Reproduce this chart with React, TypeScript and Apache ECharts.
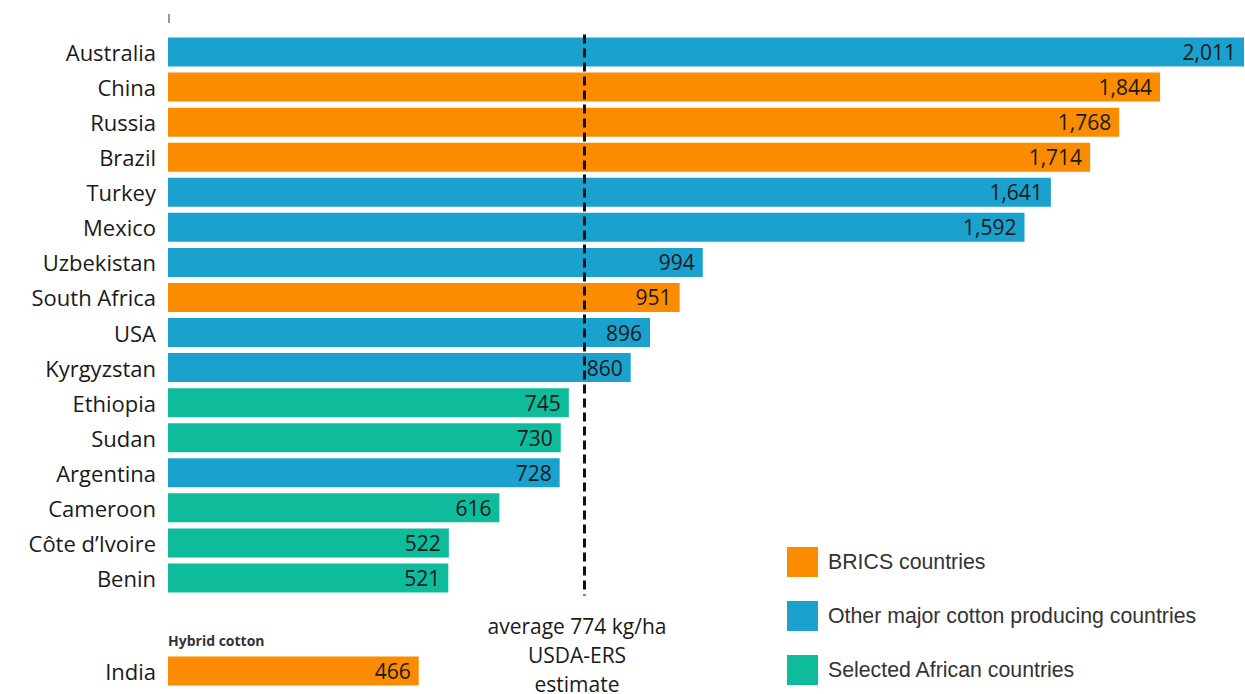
import React, { useEffect, useRef } from "react";
import * as echarts from "echarts";

const categories = [
  "Australia", "China", "Russia", "Brazil", "Turkey", "Mexico", "Uzbekistan", "South Africa",
  "USA", "Kyrgyzstan", "Ethiopia", "Sudan", "Argentina", "Cameroon", "Côte d’Ivoire", "Benin",
];
const yields = [2011, 1844, 1768, 1714, 1641, 1592, 994, 951, 896, 860, 745, 730, 728, 616, 522, 521];
const groups = [
  "other", "brics", "brics", "brics", "other", "other", "other", "brics",
  "other", "other", "african", "african", "other", "african", "african", "african",
];
const hybridCategories = ["India"];
const hybridValues = [466];
const averageYield = 774;

const groupNames: Record<string, string> = {
  brics: "BRICS countries",
  other: "Other major cotton producing countries",
  african: "Selected African countries",
};
const groupColors: Record<string, string> = {
  brics: "#FB8C00",
  other: "#1BA1CD",
  african: "#0EBC9B",
};

const FONT = "'Open Sans', 'Noto Sans', sans-serif";

export default function App() {
  const ref = useRef<HTMLDivElement>(null);
  useEffect(() => {
    if (!ref.current) return;
    const chart = echarts.init(ref.current, undefined, { renderer: "svg" });
    const fmt = (p: any) => Number(p.value).toLocaleString("en-US");
    const labelCfg = {
      show: true,
      position: "insideRight",
      distance: 8,
      formatter: fmt,
      color: "#1a1a1a",
      fontSize: 21,
      fontFamily: FONT,
    };
    const keys = ["brics", "other", "african"];
    const mainSeries: any[] = keys.map((k, i) => ({
      type: "bar",
      name: groupNames[k],
      xAxisIndex: 0,
      yAxisIndex: 0,
      stack: "main",
      barWidth: 29,
      itemStyle: { color: groupColors[k] },
      label: labelCfg,
      data: yields.map((v, j) => (groups[j] === k ? v : "-")),
      markLine:
        i === 0
          ? {
              silent: true,
              symbol: "none",
              label: { show: false },
              lineStyle: { color: "#111", type: [9, 5], width: 3 },
              data: [{ xAxis: averageYield }],
            }
          : undefined,
    }));
    mainSeries.push({
      type: "bar",
      name: groupNames.brics,
      xAxisIndex: 1,
      yAxisIndex: 1,
      barWidth: 29,
      itemStyle: { color: groupColors.brics },
      label: labelCfg,
      data: hybridValues,
    });

    const yAxisCommon = {
      type: "category",
      inverse: true,
      axisLine: { show: false },
      axisTick: { show: false },
      axisLabel: { color: "#1a1a1a", fontSize: 22, fontFamily: FONT, margin: 12 },
    };
    const xAxisCommon = {
      type: "value",
      min: 0,
      max: 2000,
      show: false,
      splitLine: { show: false },
    };

    chart.setOption({
      animation: false,
      grid: [
        { left: 168, right: 1, top: 34.5, height: 561 },
        { left: 168, right: 1, top: 653, height: 36 },
      ],
      xAxis: [
        { ...xAxisCommon, gridIndex: 0 },
        { ...xAxisCommon, gridIndex: 1 },
      ],
      yAxis: [
        { ...yAxisCommon, gridIndex: 0, data: categories },
        { ...yAxisCommon, gridIndex: 1, data: hybridCategories },
      ],
      legend: {
        orient: "vertical",
        left: 787,
        top: 547,
        padding: 0,
        icon: "rect",
        itemWidth: 31,
        itemHeight: 30,
        itemGap: 24,
        data: keys.map((k) => groupNames[k]),
        textStyle: {
          color: "#333",
          fontSize: 21.3,
          fontFamily: "'Liberation Sans', Arial, sans-serif",
          padding: [0, 0, 0, 5],
        },
      },
      graphic: [
        {
          type: "line",
          shape: { x1: 169, y1: 14, x2: 169, y2: 23 },
          style: { stroke: "#777", lineWidth: 1.5 },
        },
        {
          type: "text",
          x: 168,
          y: 640,
          style: {
            text: "Hybrid cotton",
            fontSize: 14,
            fontWeight: "bold",
            fontFamily: FONT,
            fill: "#333",
            textVerticalAlign: "middle",
          },
        },
        {
          type: "text",
          x: 577,
          y: 611,
          style: {
            text: "average 774 kg/ha\nUSDA-ERS\nestimate",
            fontSize: 21,
            lineHeight: 29,
            fontFamily: FONT,
            fill: "#1a1a1a",
            textAlign: "center",
            textVerticalAlign: "top",
          },
        },
      ],
      series: mainSeries,
    });
    return () => chart.dispose();
  }, []);
  return (
    <div
      ref={ref}
      style={{ position: "fixed", left: 0, top: 0, width: 1245, height: 694, background: "#fff" }}
    />
  );
}
